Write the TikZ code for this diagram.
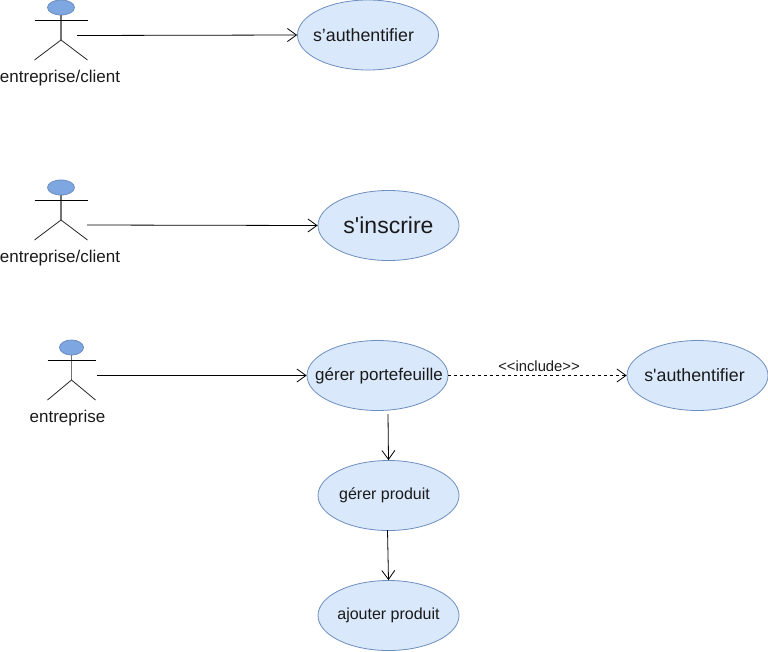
\documentclass[tikz,border=0pt]{standalone}
\usepackage{fontspec}
\setmainfont{Liberation Sans}[Ligatures=TeXOff]
\usetikzlibrary{arrows.meta,shapes.geometric}
\definecolor{ucfill}{HTML}{DAE8FC}
\definecolor{ucline}{HTML}{6C8EBF}
\definecolor{headfill}{HTML}{7EA6E0}
\definecolor{txt}{HTML}{1A1A1A}
\tikzset{
  usecase/.style={ellipse,draw=ucline,fill=ucfill,line width=0.8pt,minimum width=141pt,minimum height=70pt,inner sep=0pt,text=txt},
  head/.style={ellipse,draw=ucline,fill=headfill,line width=0.8pt,inner sep=0pt},
  limb/.style={line width=0.8pt,draw=black!85},
  bodyline/.style={line width=1.2pt,draw=black!55},
  armline/.style={line width=1pt,draw=black},
  lbl/.style={font=\fontsize{17}{19}\selectfont,text=txt,inner sep=0pt},
  assoc/.style={line width=0.8pt,draw=black,-{Straight Barb[length=9pt,width=13pt,line width=0.8pt]}},
}
\newcommand{\uct}[2]{\makebox[0pt]{\hspace{#1}#2}}
\newcommand{\actor}[7]{% name, x, arm y, half width, head rx, label, label x
  \node[head,minimum width=#5*2pt,minimum height=15pt] (#1h) at (#2pt,#3pt+12.5pt) {};
  \coordinate (#1w) at (#2pt,#3pt-20pt);
  \coordinate (#1a) at (#2pt-#4pt,#3pt);
  \coordinate (#1b) at (#2pt+#4pt,#3pt);
  \coordinate (#1c) at (#2pt-#4pt,#3pt-40pt);
  \coordinate (#1d) at (#2pt+#4pt,#3pt-40pt);
  \draw[bodyline] (#1h.south) -- (#1w);
  \draw[armline] (#1a) -- (#1b);
  \draw[limb] (#1c) -- (#1w) -- (#1d);
  \node[lbl] (#1l) at (#7pt,#3pt-58pt) {#6};
}
\begin{document}
\begin{tikzpicture}[x=1pt,y=1pt]
\useasboundingbox (0,0) rectangle (768,-651);
\actor{p}{61}{-20}{26.5}{13.5}{entreprise/client}{60}
\actor{q}{61}{-200}{26.5}{13.5}{entreprise/client}{60}
\actor{r}{71.5}{-360}{24}{12}{entreprise}{67.5}
\node[usecase,font=\fontsize{17.8}{20}\selectfont] (u1) at (368,-35) {\uct{-9pt}{s’authentifier}};
\node[usecase,font=\fontsize{23}{26}\selectfont] (u2) at (388.5,-225.5) {\uct{0pt}{s'inscrire}};
\node[usecase,font=\fontsize{17}{19}\selectfont] (u3) at (377.5,-375.5) {\uct{3pt}{gérer portefeuille}};
\node[usecase,font=\fontsize{17.8}{20}\selectfont] (u4) at (697.5,-375.5) {\uct{-6pt}{s'authentifier}};
\node[usecase,font=\fontsize{16}{18}\selectfont] (u5) at (388.5,-495.5) {\uct{-8pt}{gérer produit}};
\node[usecase,font=\fontsize{16}{18}\selectfont] (u6) at (388.5,-615.5) {\uct{0pt}{ajouter produit}};
\coordinate (s1) at (77,-35.5);
\coordinate (s2) at (87,-225);
\coordinate (s3) at (97,-375.5);
\coordinate (s5) at (388,-414);
\coordinate (s6) at (387.5,-530);
\draw[assoc] (s1) -- (u1.west);
\draw[assoc] (s2) -- (u2.west);
\draw[assoc] (s3) -- (u3.west);
\draw[assoc] (s5) -- (u5.north);
\draw[assoc] (s6) -- (u6.north);
\draw[assoc,dash pattern=on 3pt off 3pt] (u3.east) -- node[pos=0.5,above=3pt,xshift=1.5pt,font=\fontsize{14.8}{16}\selectfont,text=txt,inner sep=0pt] {<{}<include>{}>} (u4.west);
\end{tikzpicture}
\end{document}
